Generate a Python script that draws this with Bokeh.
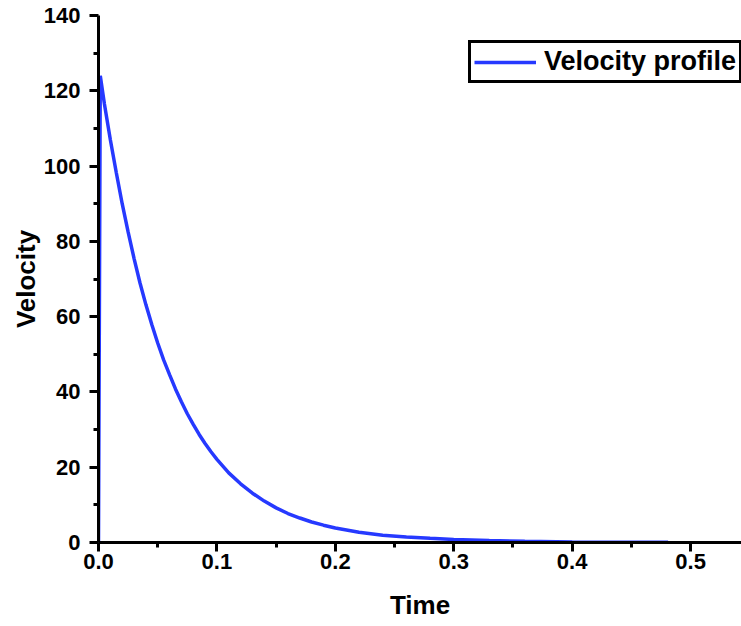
from bokeh.plotting import figure
from bokeh.models import FixedTicker, Range1d, Legend, LegendItem, NumeralTickFormatter
from bokeh.embed import file_html
from bokeh.resources import INLINE

# Values
time = [0.0, 0.0015, 0.005, 0.01, 0.015, 0.02, 0.025, 0.03, 0.035, 0.04, 0.045,
        0.05, 0.055, 0.06, 0.065, 0.07, 0.075, 0.08, 0.085, 0.09, 0.095, 0.1,
        0.11, 0.12, 0.13, 0.14, 0.15, 0.16, 0.17, 0.18, 0.19, 0.2, 0.22, 0.24,
        0.26, 0.28, 0.3, 0.33, 0.36, 0.4, 0.44, 0.481]
velocity = [0.0, 124.0, 116.5, 107.0, 98.3, 90.0, 82.5, 75.5, 69.0, 63.2, 57.9,
            53.0, 48.5, 44.6, 40.8, 37.4, 34.2, 31.4, 28.7, 26.3, 24.1, 22.1,
            18.5, 15.6, 13.1, 11.0, 9.2, 7.7, 6.5, 5.45, 4.6, 3.85, 2.7, 1.95,
            1.45, 1.1, 0.8, 0.5, 0.3, 0.15, 0.08, 0.04]

x_ticks = [0.0, 0.1, 0.2, 0.3, 0.4, 0.5]
x_minor = [0.05, 0.15, 0.25, 0.35, 0.45]
y_ticks = [0, 20, 40, 60, 80, 100, 120, 140]
y_minor = [10, 30, 50, 70, 90, 110, 130]

FONT = "Liberation Sans"

p = figure(width=741, height=626, output_backend="svg", toolbar_location=None,
           x_range=Range1d(0, 0.543), y_range=Range1d(0, 140),
           min_border_left=98, min_border_right=0, min_border_top=15,
           min_border_bottom=84, background_fill_color="white",
           border_fill_color="white")
p.outline_line_color = None
p.xgrid.visible = False
p.ygrid.visible = False

r = p.line(time, velocity, line_color="#2639FF", line_width=3.5)

for ax in (p.xaxis[0], p.yaxis[0]):
    ax.axis_line_width = 3
    ax.axis_line_color = "black"
    ax.major_tick_line_width = 3
    ax.minor_tick_line_width = 3
    ax.major_tick_in = 0
    ax.major_tick_out = 9
    ax.minor_tick_in = 0
    ax.minor_tick_out = 5
    ax.major_label_text_font = FONT
    ax.major_label_text_font_style = "bold"
    ax.major_label_text_font_size = "22px"
    ax.major_label_text_color = "black"
    ax.axis_label_text_font = FONT
    ax.axis_label_text_font_style = "bold"
    ax.axis_label_text_font_size = "26px"
    ax.axis_label_text_color = "black"

p.xaxis.ticker = FixedTicker(ticks=x_ticks, minor_ticks=x_minor)
p.yaxis.ticker = FixedTicker(ticks=y_ticks, minor_ticks=y_minor)
p.xaxis.formatter = NumeralTickFormatter(format="0.0")
p.yaxis.formatter = NumeralTickFormatter(format="0")
p.xaxis.axis_label = "Time"
p.yaxis.axis_label = "Velocity"
p.xaxis.major_label_standoff = 2
p.yaxis.major_label_standoff = 9
p.xaxis.axis_label_standoff = 18
p.yaxis.axis_label_standoff = 0

legend = Legend(items=[LegendItem(label="Velocity profile", renderers=[r])],
                location=(370, 459), orientation="vertical",
                border_line_color="black", border_line_width=3,
                border_line_alpha=1.0,
                background_fill_color="white", background_fill_alpha=1.0,
                label_text_font=FONT, label_text_font_style="bold",
                label_text_font_size="27px", label_text_color="black",
                glyph_width=62, glyph_height=30, label_standoff=8,
                padding=3, margin=0, spacing=0)
p.add_layout(legend)

open("out.html", "w").write(file_html(p, INLINE))
